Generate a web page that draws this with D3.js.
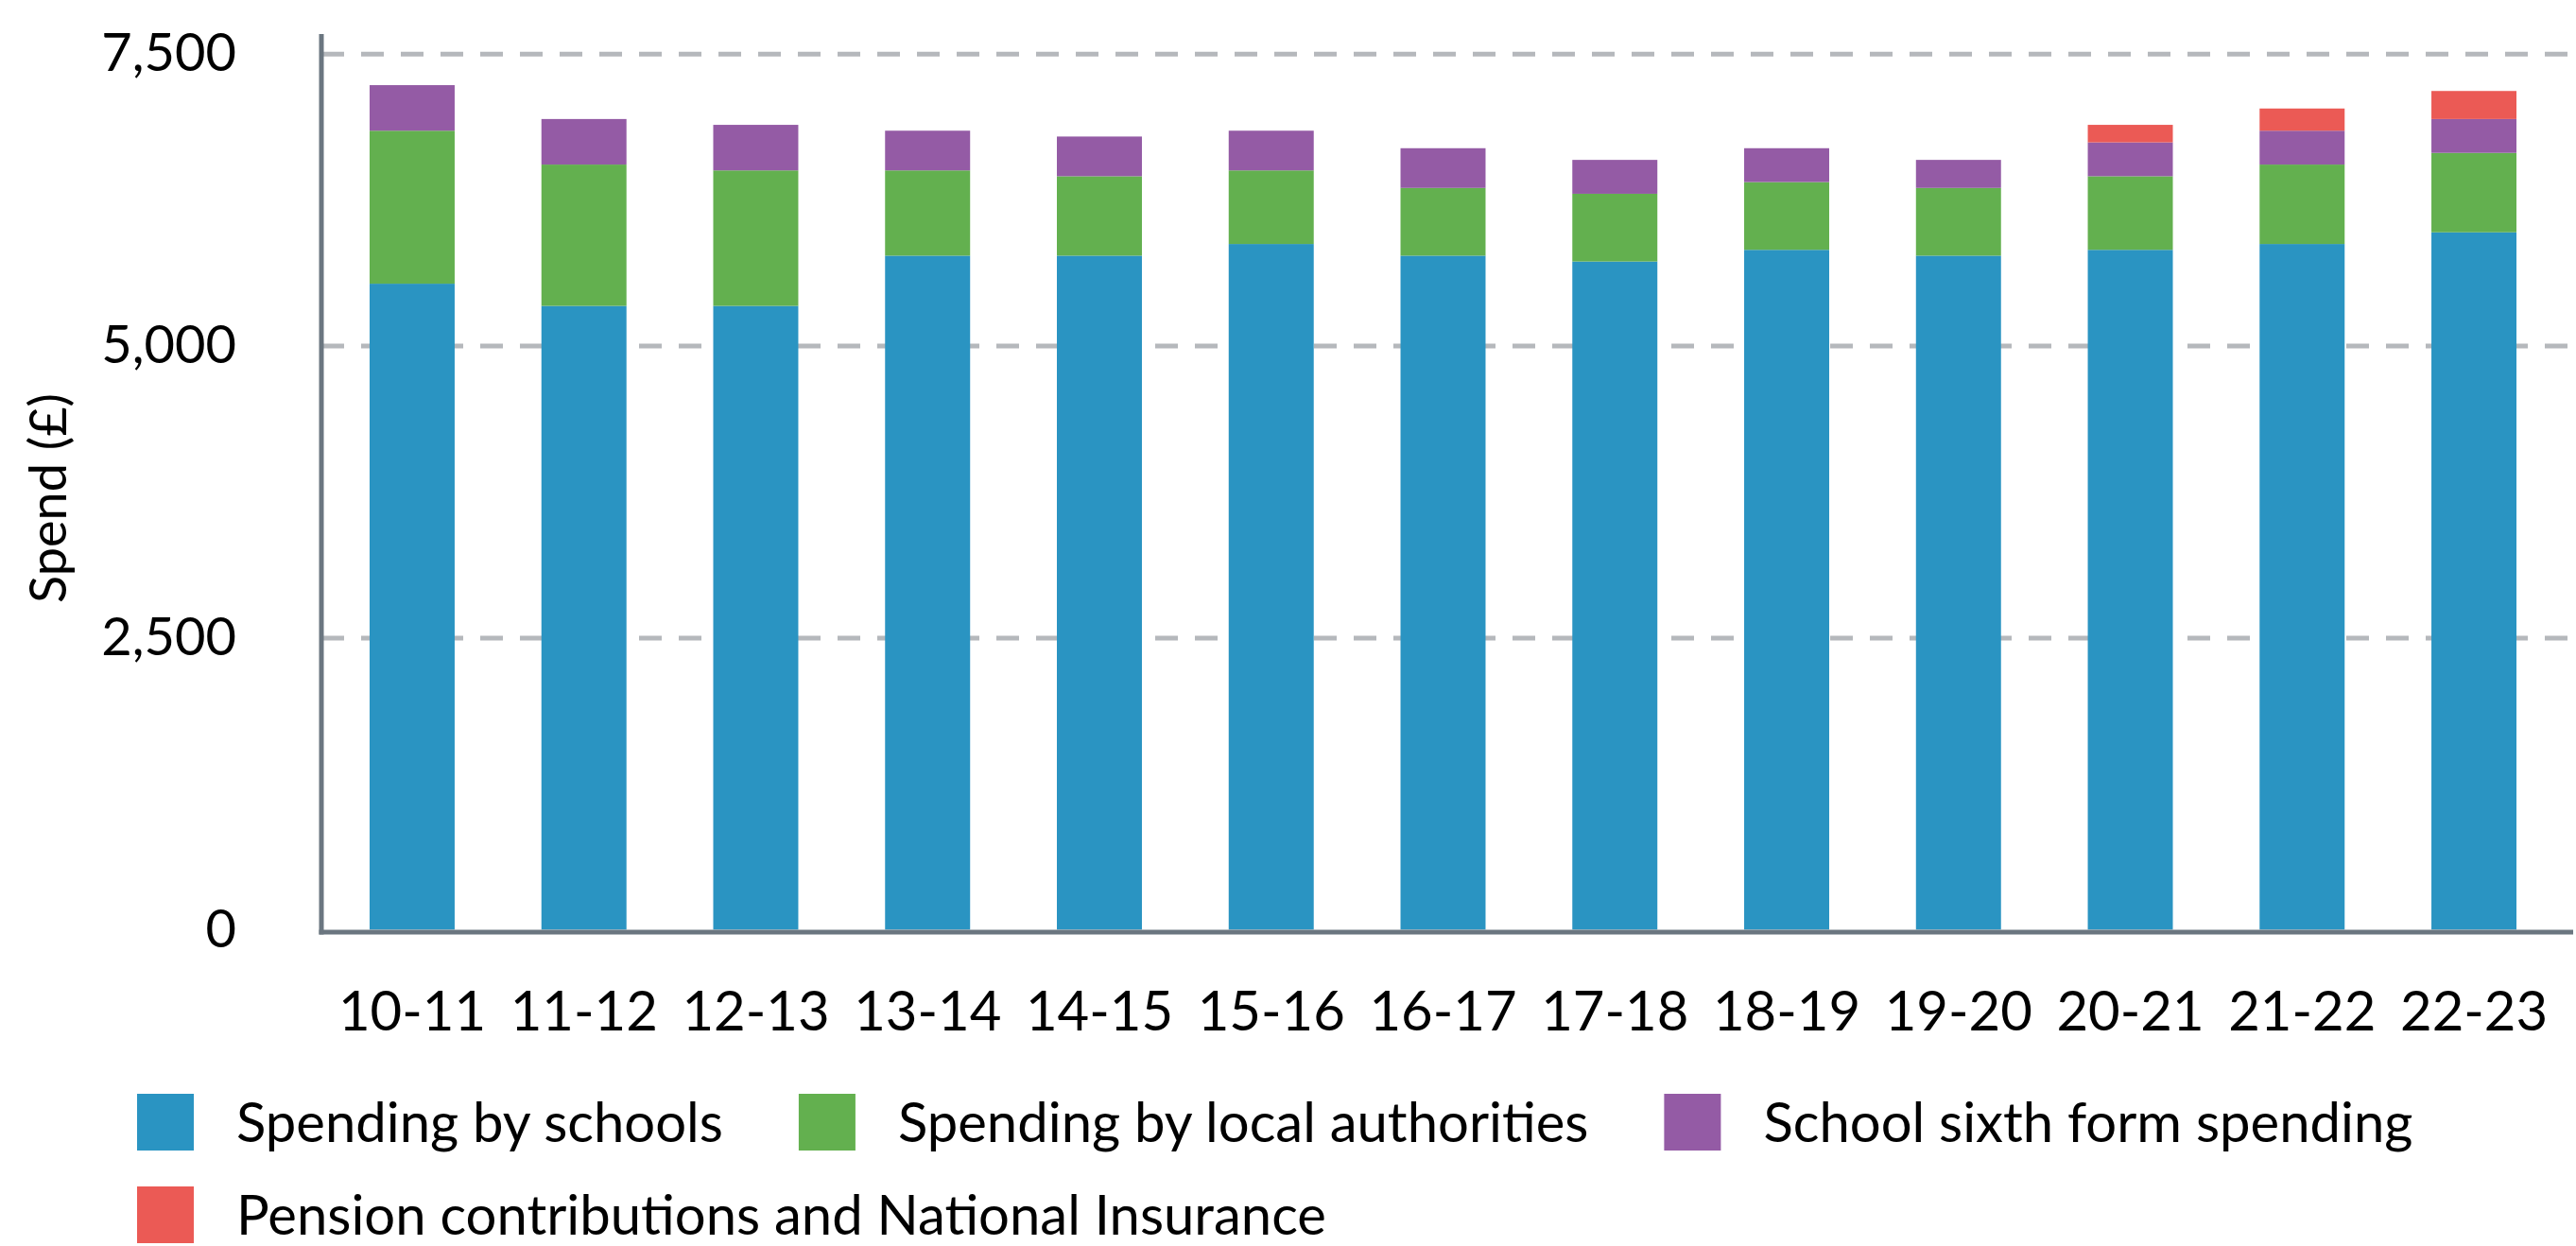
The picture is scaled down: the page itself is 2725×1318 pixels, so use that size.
<!DOCTYPE html>
<html>
<head>
<meta charset="utf-8">
<script src="https://cdn.jsdelivr.net/npm/d3@7"></script>
<style>
  html, body { margin: 0; padding: 0; background: #fff; }
  svg { display: block; }
  text { font-family: Lato, "Noto Sans", sans-serif; fill: #000; }
</style>
</head>
<body>
<svg id="chart" width="2725" height="1318"></svg>
<script>
// chart data
var years = ['10-11', '11-12', '12-13', '13-14', '14-15', '15-16', '16-17', '17-18', '18-19', '19-20', '20-21', '21-22', '22-23'];
var schools     = [5530, 5340, 5340, 5770, 5770, 5870, 5770, 5720, 5820, 5770, 5820, 5870, 5970];
var localAuth   = [1310, 1210, 1160,  730,  680,  630,  580,  580,  580,  580,  630,  680,  680];
var sixthForm   = [ 390,  390,  390,  340,  340,  340,  340,  290,  290,  240,  290,  290,  290];
var pensions    = [   0,    0,    0,    0,    0,    0,    0,    0,    0,    0,  150,  190,  240];
var seriesNames = ['Spending by schools', 'Spending by local authorities', 'School sixth form spending', 'Pension contributions and National Insurance'];
var yTicks = [0, 2500, 5000, 7500];

var colors = ['#2a94c2', '#63b04f', '#945ba5', '#eb5a55'];

var svg = d3.select('#chart');

var axisX = 340, baseY = 986;

var x = d3.scaleBand()
    .domain(years)
    .range([341, 2712])
    .paddingInner(0.505)
    .paddingOuter(0.275);

var y = d3.scaleLinear()
    .domain([0, 7500])
    .range([983.3, 56.7]);

// stack the series
var rows = years.map(function(yr, i) {
  return { year: yr, s0: schools[i], s1: localAuth[i], s2: sixthForm[i], s3: pensions[i] };
});
var stack = d3.stack().keys(['s0', 's1', 's2', 's3']);
var layers = stack(rows);

// gridlines
var grid = svg.append('g')
    .attr('transform', 'translate(' + axisX + ',0)')
    .call(d3.axisLeft(y).tickValues(yTicks.slice(1)).tickSize(-(2725 - axisX)).tickFormat(''));
grid.select('.domain').remove();
grid.selectAll('line')
    .attr('stroke', '#b5b8bc')
    .attr('stroke-width', 5)
    .attr('stroke-dasharray', '24,18');

// bars
svg.append('g').selectAll('g')
  .data(layers)
  .enter().append('g')
    .attr('fill', function(d, i) { return colors[i]; })
  .selectAll('rect')
  .data(function(d) { return d; })
  .enter().append('rect')
    .attr('x', function(d) { return x(d.data.year); })
    .attr('y', function(d) { return y(d[1]); })
    .attr('width', x.bandwidth())
    .attr('height', function(d) { return y(d[0]) - y(d[1]); });

// y axis labels
var yAxis = svg.append('g')
    .attr('transform', 'translate(' + axisX + ',0)')
    .call(d3.axisLeft(y).tickValues(yTicks).tickFormat(d3.format(',')).tickSize(0).tickPadding(90));
yAxis.select('.domain').remove();
yAxis.selectAll('text')
    .style('font-size', '56px')
    .attr('dy', '0.32em')
    .attr('fill', '#000');

// x axis labels
var xAxis = svg.append('g')
    .attr('transform', 'translate(0,' + baseY + ')')
    .call(d3.axisBottom(x).tickSize(0));
xAxis.select('.domain').remove();
xAxis.selectAll('text')
    .style('font-size', '58px')
    .attr('y', 104)
    .attr('dy', 0)
    .attr('fill', '#000');

// axis lines
svg.append('line')
    .attr('x1', axisX).attr('x2', axisX)
    .attr('y1', 36).attr('y2', baseY + 2.5)
    .attr('stroke', '#6b7680').attr('stroke-width', 5);
svg.append('line')
    .attr('x1', axisX - 2.5).attr('x2', 2722)
    .attr('y1', baseY).attr('y2', baseY)
    .attr('stroke', '#6b7680').attr('stroke-width', 5);

// y title
svg.append('text')
    .attr('transform', 'translate(70,527) rotate(-90)')
    .attr('text-anchor', 'middle')
    .style('font-size', '54px')
    .text('Spend (£)');

// legend
var legend = svg.append('g');
var lx = 145, ly = 1157;
seriesNames.forEach(function(name, i) {
  var item = legend.append('g');
  item.append('rect')
      .attr('x', 0).attr('y', 0)
      .attr('width', 60).attr('height', 60)
      .attr('fill', colors[i]);
  var t = item.append('text')
      .attr('x', 105).attr('y', 51)
      .style('font-size', '58px')
      .text(name);
  var w = 105 + t.node().getComputedTextLength();
  if (lx + w > 2650) { lx = 145; ly += 98; }
  item.attr('transform', 'translate(' + lx + ',' + ly + ')');
  lx += w + 80;
});
</script>
</body>
</html>
